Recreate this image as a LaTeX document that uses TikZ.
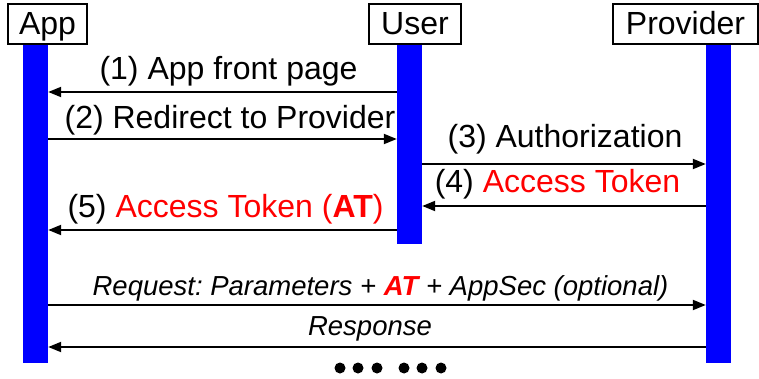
\documentclass[tikz,border=0pt]{standalone}
\usepackage{fontspec}
\setmainfont{Liberation Sans}
\usetikzlibrary{arrows.meta}
\definecolor{lifeblue}{RGB}{0,0,255}
\definecolor{tokred}{RGB}{255,0,0}
\frenchspacing
\begin{document}
\begin{tikzpicture}[x=1pt,y=-1pt,
  actor/.style={draw=black, line width=1.4pt, fill=white, inner sep=0pt,
    minimum height=40pt, text height=25pt, text depth=3pt,
    font=\fontsize{32}{36}\selectfont},
  life/.style={fill=lifeblue, draw=none, inner sep=0pt, minimum width=25pt, anchor=north},
  msg/.style={line width=2pt, -{Triangle[length=13pt,width=10pt]}},
  lbl/.style={anchor=base, inner sep=0pt, font=\fontsize{32}{36}\selectfont},
  ilbl/.style={anchor=base, inner sep=0pt, font=\fontsize{27.5}{32}\selectfont\itshape},
  dotmark/.style={circle, fill=black, minimum size=11pt, inner sep=0pt}]
\useasboundingbox (0,0) rectangle (759,379);

% lifelines
\node[life, minimum height=319pt] (appbar)  at (35.5,44) {};
\node[life, minimum height=200pt] (userbar) at (409.5,44) {};
\node[life, minimum height=319pt] (provbar) at (718.5,44) {};

% participants
\node[actor, minimum width=79pt]  (app)  at (47.5,24)  {App};
\node[actor, minimum width=92pt]  (user) at (415,24)   {User};
\node[actor, minimum width=145pt] (prov) at (685.5,24) {Provider};

% message rows
\coordinate (r1) at (0,92);
\coordinate (r2) at (0,139);
\coordinate (r3) at (0,164);
\coordinate (r4) at (0,206);
\coordinate (r5) at (0,230);
\coordinate (r6) at (0,305);
\coordinate (r7) at (0,347);

\draw[msg] (userbar.west |- r1) -- (appbar.east |- r1);
\draw[msg] (appbar.east |- r2) -- (userbar.west |- r2);
\draw[msg] (userbar.east |- r3) -- (provbar.west |- r3);
\draw[msg] (provbar.west |- r4) -- (userbar.east |- r4);
\draw[msg] (userbar.west |- r5) -- (appbar.east |- r5);
\draw[msg] (appbar.east |- r6) -- (provbar.west |- r6);
\draw[msg] (provbar.west |- r7) -- (appbar.east |- r7);

% message labels
\node[lbl] (l1) at (228.5,80)  {(1) App front page};
\node[lbl] (l2) at (230,129)   {(2) Redirect to Provider};
\node[lbl] (l3) at (565,148)   {(3) Authorization};
\node[lbl] (l4) at (557.5,193) {(4) \textcolor{tokred}{Access Token}};
\node[lbl] (l5) at (225.5,218) {(5) \textcolor{tokred}{Access Token (\textbf{AT})}};
\node[ilbl] (l6) at (380.5,295) {Request: Parameters + \textcolor{tokred}{\textbf{AT}} + AppSec (optional)};
\node[ilbl] (l7) at (370,335)   {Response};

% continuation marks
\foreach \x [count=\i] in {340,358,377,404,422,441}
  \node[dotmark] (d\i) at (\x,368) {};
\end{tikzpicture}
\end{document}
